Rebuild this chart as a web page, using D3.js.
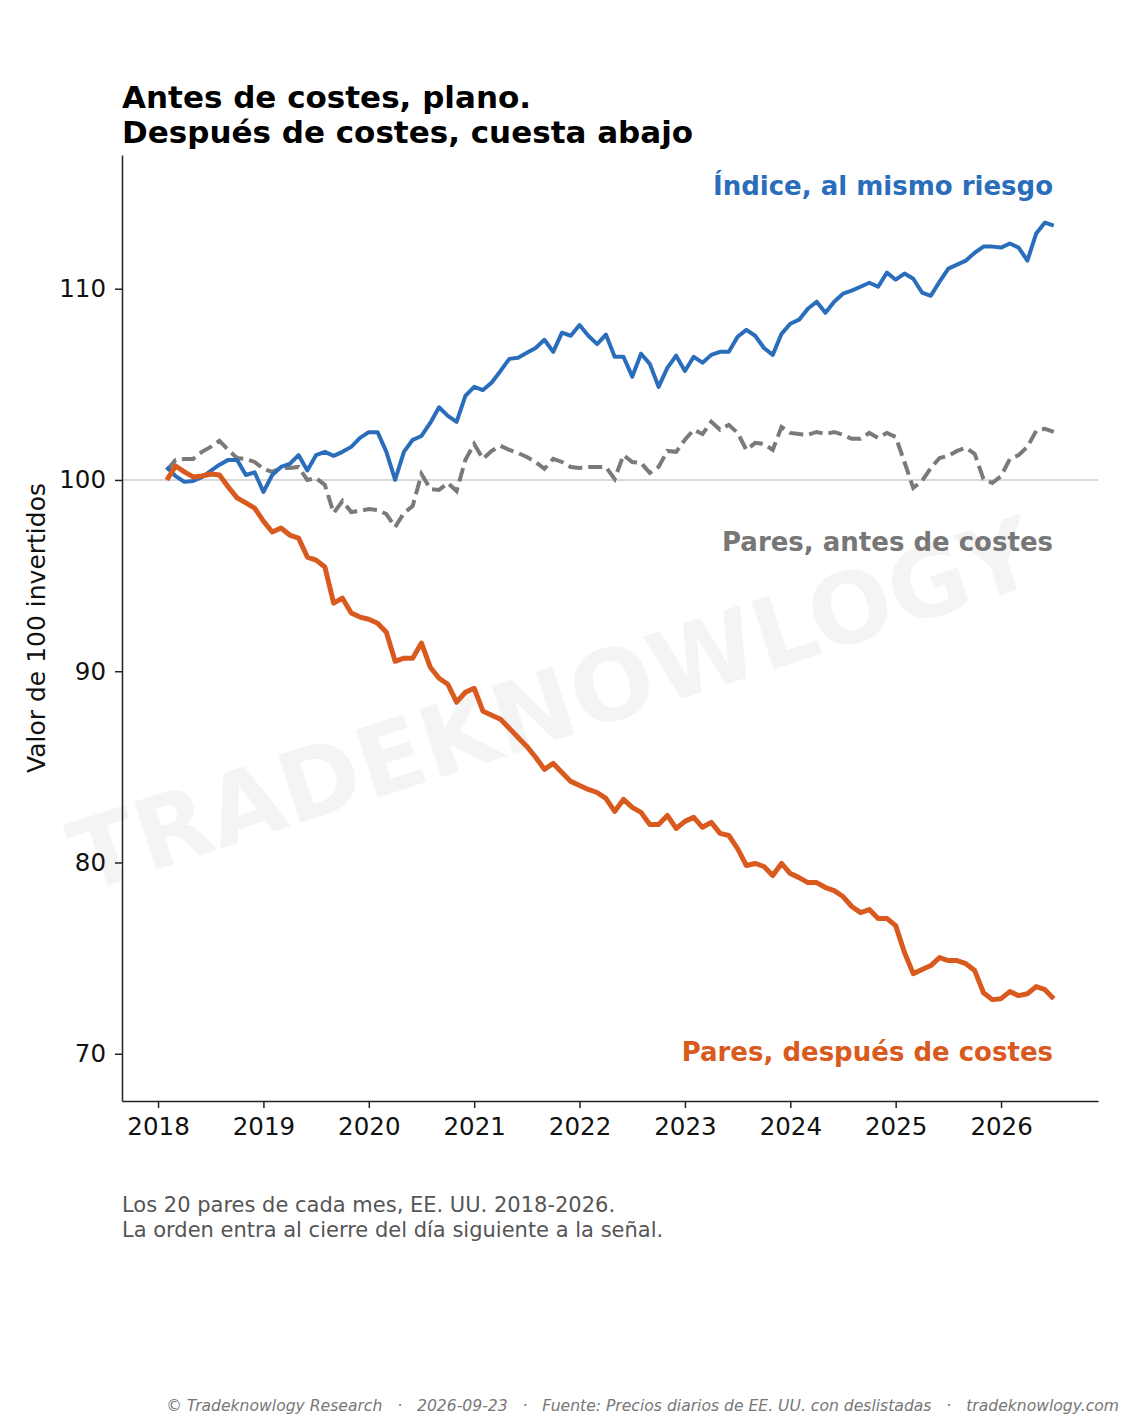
<!DOCTYPE html>
<html>
<head>
<meta charset="utf-8">
<script src="https://cdn.jsdelivr.net/npm/d3@7"></script>
<style>
  body { margin: 0; background: #fff; }
  svg text { font-family: "DejaVu Sans", sans-serif; }
</style>
</head>
<body>
<div id="chart"></div>
<script>
// Monthly series, first point Feb 2018, last point Jul 2026
var startYear = 2018;
var startMonth = 1; // 0 = January

var indexSeries = [
  100.68, 100.2, 99.9, 99.95, 100.15, 100.47, 100.8, 101.05, 101.05, 100.26,
  100.4, 99.37, 100.26, 100.68, 100.84, 101.3, 100.5, 101.3, 101.47, 101.26,
  101.47, 101.73, 102.2, 102.5, 102.5, 101.47, 100.0, 101.47, 102.1, 102.3,
  102.98, 103.8, 103.35, 103.04, 104.4, 104.87, 104.7, 105.1, 105.7, 106.33,
  106.39, 106.65, 106.9, 107.33, 106.7, 107.7, 107.54, 108.1, 107.54, 107.1,
  107.6, 106.44, 106.44, 105.4, 106.6, 106.07, 104.87, 105.86, 106.5, 105.7,
  106.44, 106.13, 106.54, 106.7, 106.7, 107.49, 107.85, 107.54, 106.9, 106.54,
  107.64, 108.17, 108.38, 108.95, 109.32, 108.74, 109.32, 109.74, 109.9, 110.1,
  110.31, 110.1, 110.84, 110.47, 110.79, 110.52, 109.8, 109.63, 110.37, 111.05,
  111.26, 111.47, 111.88, 112.2, 112.2, 112.15, 112.36, 112.15, 111.47, 112.88,
  113.46, 113.3
];

var pairsGross = [
  100.5, 101.05, 101.1, 101.1, 101.47, 101.73, 102.04, 101.57, 101.15, 101.1,
  100.94, 100.58, 100.42, 100.63, 100.63, 100.68, 100.0, 100.1, 99.74, 98.27,
  98.9, 98.32, 98.38, 98.48, 98.43, 98.22, 97.54, 98.27, 98.64, 100.31,
  99.53, 99.48, 99.84, 99.42, 101.05, 101.88, 101.1, 101.52, 101.78, 101.57,
  101.41, 101.2, 100.94, 100.58, 101.1, 100.94, 100.68, 100.63, 100.68, 100.68,
  100.68, 100.05, 101.3, 100.94, 100.89, 100.37, 100.68, 101.52, 101.47, 102.1,
  102.62, 102.4, 103.04, 102.62, 102.88, 102.46, 101.57, 101.94, 101.88, 101.57,
  102.77, 102.46, 102.4, 102.36, 102.51, 102.4, 102.51, 102.36, 102.15, 102.15,
  102.46, 102.2, 102.46, 102.25, 100.94, 99.58, 99.95, 100.63, 101.15, 101.26,
  101.52, 101.68, 101.36, 100.05, 99.84, 100.2, 101.1, 101.3, 101.73, 102.57,
  102.67, 102.51
];

var pairsNet = [
  100.0, 100.73, 100.42, 100.16, 100.21, 100.31, 100.26, 99.63, 99.06, 98.8,
  98.53, 97.85, 97.28, 97.49, 97.12, 96.96, 95.97, 95.81, 95.45, 93.56,
  93.82, 93.04, 92.83, 92.72, 92.51, 92.04, 90.52, 90.68, 90.68, 91.47,
  90.21, 89.63, 89.32, 88.38, 88.9, 89.11, 87.91, 87.7, 87.49, 87.02,
  86.54, 86.07, 85.5, 84.87, 85.18, 84.71, 84.24, 84.03, 83.82, 83.66,
  83.35, 82.67, 83.3, 82.88, 82.62, 81.99, 81.99, 82.46, 81.78, 82.15,
  82.36, 81.84, 82.1, 81.52, 81.41, 80.73, 79.84, 79.95, 79.79, 79.32,
  79.95, 79.42, 79.21, 78.95, 78.95, 78.69, 78.53, 78.22, 77.7, 77.38,
  77.54, 77.07, 77.07, 76.7, 75.29, 74.19, 74.4, 74.61, 75.03, 74.87,
  74.87, 74.71, 74.35, 73.19, 72.83, 72.88, 73.25, 73.04, 73.14, 73.51,
  73.35, 72.88
];

var yearTicks = [2018, 2019, 2020, 2021, 2022, 2023, 2024, 2025, 2026];
var valueTicks = [70, 80, 90, 100, 110];

var titleLines = ["Antes de costes, plano.", "Después de costes, cuesta abajo"];
var seriesLabels = ["Índice, al mismo riesgo", "Pares, antes de costes", "Pares, después de costes"];
var noteLines = ["Los 20 pares de cada mes, EE. UU. 2018-2026.",
                 "La orden entra al cierre del día siguiente a la señal."];
var creditText = "© Tradeknowlogy Research   ·   2026-09-23   ·   Fuente: Precios diarios de EE. UU. con deslistadas   ·   tradeknowlogy.com";

// Chart area
var svgWidth = 1125;
var svgHeight = 1425;
var margin = { top: 155, right: 27, bottom: 324, left: 122 };
var width = svgWidth - margin.left - margin.right;
var height = svgHeight - margin.top - margin.bottom;

var svg = d3.select("#chart").append("svg")
  .attr("width", svgWidth)
  .attr("height", svgHeight);

// watermark behind everything
svg.append("text")
  .attr("transform", "translate(555,712) rotate(-18)")
  .attr("text-anchor", "middle")
  .attr("dominant-baseline", "middle")
  .attr("font-size", "98px")
  .attr("font-weight", "bold")
  .attr("fill", "#000")
  .attr("fill-opacity", 0.045)
  .text("TRADEKNOWLOGY");

var chartGroup = svg.append("g")
  .attr("transform", `translate(${margin.left}, ${margin.top})`);

var xScale = d3.scaleLinear()
  .domain([2017.658, 2026.92])
  .range([0, width]);

var yScale = d3.scaleLinear()
  .domain([67.53, 116.99])
  .range([height, 0]);

// decimal year for each monthly point
var monthX = indexSeries.map((d, i) => startYear + (startMonth + i) / 12);

// reference line at 100
chartGroup.append("line")
  .attr("x1", 0).attr("x2", width)
  .attr("y1", yScale(100)).attr("y2", yScale(100))
  .attr("stroke", "#cccccc")
  .attr("stroke-width", 1.6);

var line = d3.line()
  .x((d, i) => xScale(monthX[i]))
  .y(d => yScale(d));

chartGroup.append("path")
  .datum(pairsGross)
  .attr("d", line)
  .attr("fill", "none")
  .attr("stroke", "#7a7a7a")
  .attr("stroke-width", 4)
  .attr("stroke-dasharray", "14,6");

chartGroup.append("path")
  .datum(indexSeries)
  .attr("d", line)
  .attr("fill", "none")
  .attr("stroke", "#2a6ebb")
  .attr("stroke-width", 4)
  .attr("stroke-linejoin", "round");

chartGroup.append("path")
  .datum(pairsNet)
  .attr("d", line)
  .attr("fill", "none")
  .attr("stroke", "#d95a1e")
  .attr("stroke-width", 5)
  .attr("stroke-linejoin", "round");

// axes
var xAxis = d3.axisBottom(xScale).tickValues(yearTicks).tickFormat(d3.format("d"))
  .tickSize(7).tickSizeOuter(0).tickPadding(10);
var yAxis = d3.axisLeft(yScale).tickValues(valueTicks)
  .tickSize(7).tickSizeOuter(0).tickPadding(9);

var gx = chartGroup.append("g")
  .attr("transform", `translate(0, ${height})`)
  .call(xAxis);
var gy = chartGroup.append("g").call(yAxis);

[gx, gy].forEach(function(g) {
  g.select(".domain").attr("stroke", "#222").attr("stroke-width", 1.5);
  g.selectAll(".tick line").attr("stroke", "#222").attr("stroke-width", 1.5);
  g.selectAll(".tick text")
    .attr("font-family", "DejaVu Sans")
    .attr("font-size", "24.5px")
    .attr("fill", "#111");
});

// y label
chartGroup.append("text")
  .attr("transform", "rotate(-90)")
  .attr("x", -(628 - margin.top))
  .attr("y", 45 - margin.left)
  .attr("text-anchor", "middle")
  .attr("font-size", "25px")
  .attr("fill", "#111")
  .text("Valor de 100 invertidos");

// title
svg.selectAll("text.title").data(titleLines).enter()
  .append("text")
  .attr("class", "title")
  .attr("x", 122)
  .attr("y", (d, i) => 108 + i * 35)
  .attr("font-size", "31px")
  .attr("font-weight", "bold")
  .attr("fill", "#000")
  .text(d => d);

// series labels
var labelColors = ["#2a6ebb", "#777777", "#d95a1e"];
var labelY = [195, 551, 1061];
svg.selectAll("text.series").data(seriesLabels).enter()
  .append("text")
  .attr("class", "series")
  .attr("x", 1053)
  .attr("y", (d, i) => labelY[i])
  .attr("text-anchor", "end")
  .attr("font-size", "26px")
  .attr("font-weight", "bold")
  .attr("fill", (d, i) => labelColors[i])
  .text(d => d);

// notes under chart
svg.selectAll("text.note").data(noteLines).enter()
  .append("text")
  .attr("class", "note")
  .attr("x", 122)
  .attr("y", (d, i) => 1212 + i * 25)
  .attr("font-size", "21px")
  .attr("fill", "#555")
  .text(d => d);

svg.append("text")
  .attr("x", 1119)
  .attr("y", 1411)
  .attr("text-anchor", "end")
  .attr("font-size", "15.6px")
  .attr("font-style", "italic")
  .attr("fill", "#777")
  .style("white-space", "pre")
  .attr("xml:space", "preserve")
  .text(creditText);
</script>
</body>
</html>
